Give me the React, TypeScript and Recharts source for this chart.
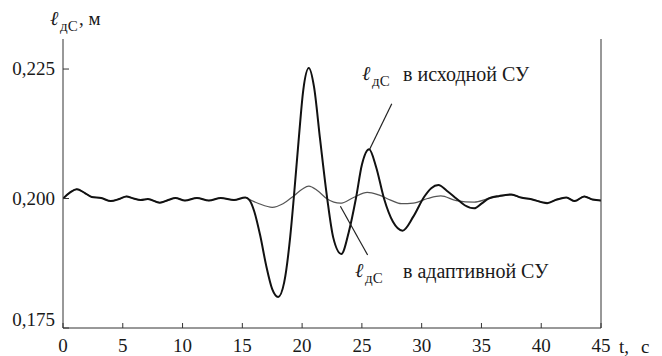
import React from "react";
import { LineChart, Line, XAxis, YAxis, ReferenceLine } from "recharts";

// common start (both systems coincide before the disturbance)
const tEarly = [0, 0.6, 1.15, 1.8, 2.4, 3.2, 4.0, 4.7, 5.3, 5.9, 6.5, 7.1, 8.1, 8.8, 9.4, 10.2, 11.2, 12.2, 13.2, 14.3, 15.25];
const lEarly = [0.2, 0.2012, 0.2018, 0.2011, 0.2003, 0.2001, 0.1995, 0.1999, 0.2004, 0.2, 0.1997, 0.1999, 0.1992, 0.1997, 0.2001, 0.1996, 0.2001, 0.1996, 0.2001, 0.1997, 0.2002];

// l_dc in the original control system
const tInitial = [15.6, 16.0, 16.5, 17.0, 17.5, 18.0, 18.5, 19.0, 19.3, 19.7, 20.1, 20.56, 21.0, 21.5, 22.1, 22.6, 23.28, 23.9, 24.5, 25.0, 25.6, 26.2, 26.85, 27.6, 28.4, 29.3, 30.2, 30.8, 31.4, 32.1, 32.9, 33.6, 34.4, 35.0, 35.6, 36.5, 37.5, 38.3, 39.1, 40.5, 41.3, 42.1, 42.8, 43.6, 44.3, 45.0];
const lInitial = [0.1997, 0.1975, 0.1928, 0.187, 0.1825, 0.181, 0.1838, 0.1925, 0.2, 0.211, 0.221, 0.2252, 0.2215, 0.2115, 0.2, 0.1925, 0.1893, 0.1935, 0.2, 0.2065, 0.2095, 0.206, 0.2, 0.1955, 0.1938, 0.1965, 0.2003, 0.202, 0.2026, 0.2015, 0.2, 0.1987, 0.1981, 0.199, 0.2, 0.2005, 0.2008, 0.2002, 0.1999, 0.1991, 0.1998, 0.2002, 0.1995, 0.2004, 0.1998, 0.1996];

// l_dc in the adaptive control system
const tAdaptive = [15.6, 16.4, 17.5, 18.4, 19.3, 20.0, 20.56, 21.3, 22.1, 23.2, 24.3, 25.45, 26.4, 27.4, 28.3, 29.3, 30.5, 31.6, 32.9, 34.4, 35.6, 36.5, 37.5, 38.3, 39.1, 40.5, 41.3, 42.1, 42.8, 43.6, 44.3, 45.0];
const lAdaptive = [0.1998, 0.199, 0.1983, 0.199, 0.2005, 0.2018, 0.2024, 0.2015, 0.1999, 0.1991, 0.2002, 0.2012, 0.2007, 0.1997, 0.199, 0.1991, 0.2, 0.2005, 0.1996, 0.1993, 0.2, 0.2004, 0.2007, 0.2002, 0.1999, 0.1992, 0.1998, 0.2002, 0.1995, 0.2004, 0.1998, 0.1996];

const xTicks = [0, 5, 10, 15, 20, 25, 30, 35, 40, 45];
const yTicks = [0.175, 0.2, 0.225];

const toRows = (t: number[], v: number[]) => t.map((x, i) => ({ t: x, v: v[i] }));
const initialData = toRows([...tEarly, ...tInitial], [...lEarly, ...lInitial]);
const adaptiveData = toRows([...tEarly, ...tAdaptive], [...lEarly, ...lAdaptive]);

const FONT = "Liberation Serif, DejaVu Serif, Noto Serif, serif";
const INK = "#1a1a1a";
const txt = { fontFamily: FONT };

const BottomTick = (props: any) => {
  const { x, y, payload } = props;
  return (
    <g>
      <line x1={x} x2={x} y1={y} y2={y - 5} stroke="#333" />
      <text x={x} y={y + 24} textAnchor="middle" fontSize={19} style={txt} fill={INK}>
        {payload.value}
      </text>
    </g>
  );
};

const TopTick = (props: any) => {
  const { x, y } = props;
  return <line x1={x} x2={x} y1={y} y2={y + 5} stroke="#333" />;
};

const LeftTick = (props: any) => {
  const { x, y, payload } = props;
  const lift = payload.value === 0.175 ? -8 : 0;
  return (
    <g>
      <line x1={x} x2={x + 6} y1={y} y2={y} stroke="#333" />
      <text x={x - 8} y={y + 6 + lift} textAnchor="end" fontSize={19} style={txt} fill={INK}>
        {payload.value.toFixed(3).replace(".", ",")}
      </text>
    </g>
  );
};

const RightTick = (props: any) => {
  const { x, y } = props;
  return <line x1={x} x2={x - 4} y1={y} y2={y} stroke="#333" />;
};

const Ldc = ({ x, y, sub = 15 }: { x: number; y: number; sub?: number }) => (
  <g fill={INK}>
    <text x={x} y={y} fontSize={20} fontStyle="italic" style={txt}>ℓ</text>
    <text x={x + 10} y={y + 6} fontSize={sub} style={txt}>дС</text>
  </g>
);

export default function App() {
  return (
    <div style={{ position: "relative", width: 662, height: 356, background: "#fff" }}>
      <style>{"body{margin:0}"}</style>
      <LineChart width={662} height={356} margin={{ top: 39, right: 0, bottom: 0, left: 0 }}>
        <XAxis
          dataKey="t"
          type="number"
          domain={[0, 45]}
          ticks={xTicks}
          allowDataOverflow
          height={28}
          tickSize={0}
          tickMargin={0}
          tickLine={false}
          axisLine={{ stroke: "#333" }}
          tick={<BottomTick />}
        />
        <XAxis
          xAxisId="top"
          orientation="top"
          type="number"
          domain={[0, 45]}
          ticks={xTicks.slice(1, -1)}
          height={0}
          tickSize={0}
          tickMargin={0}
          tickLine={false}
          axisLine={{ stroke: "#333" }}
          tick={<TopTick />}
        />
        <YAxis
          type="number"
          domain={[0.175, 0.2308]}
          ticks={yTicks}
          allowDataOverflow
          width={63}
          tickSize={0}
          tickMargin={0}
          tickLine={false}
          axisLine={{ stroke: "#333" }}
          tick={<LeftTick />}
        />
        <YAxis
          yAxisId="right"
          orientation="right"
          type="number"
          domain={[0.175, 0.2308]}
          ticks={[0.2, 0.225]}
          width={61}
          tickSize={0}
          tickMargin={0}
          tickLine={false}
          axisLine={{ stroke: "#333" }}
          tick={<RightTick />}
        />
        <Line
          data={adaptiveData}
          dataKey="v"
          type="monotone"
          stroke="#555"
          strokeWidth={1.2}
          dot={false}
          isAnimationActive={false}
        />
        <Line
          data={initialData}
          dataKey="v"
          type="monotone"
          stroke="#111"
          strokeWidth={2}
          dot={false}
          isAnimationActive={false}
        />
        <ReferenceLine
          segment={[{ x: 25.65, y: 0.2095 }, { x: 27.5, y: 0.2183 }]}
          stroke="#222"
          strokeWidth={1.2}
        />
        <ReferenceLine
          segment={[{ x: 23.2, y: 0.1985 }, { x: 25.48, y: 0.1891 }]}
          stroke="#222"
          strokeWidth={1.2}
        />
      </LineChart>
      <svg
        width={662}
        height={356}
        style={{ position: "absolute", left: 0, top: 0, pointerEvents: "none" }}
      >
        <Ldc x={50} y={25} />
        <text x={79} y={25} fontSize={19} style={txt} fill={INK}>, м</text>
        <text x={619} y={353} fontSize={19} style={txt} fill={INK}>t,</text>
        <text x={641} y={353} fontSize={19} style={txt} fill={INK}>с</text>
        <Ldc x={362} y={80} />
        <text x={403} y={81} fontSize={20} fontWeight={500} style={txt} fill={INK}>в исходной СУ</text>
        <Ldc x={355} y={277} />
        <text x={403} y={278} fontSize={20} fontWeight={500} style={txt} fill={INK}>в адаптивной СУ</text>
      </svg>
    </div>
  );
}
